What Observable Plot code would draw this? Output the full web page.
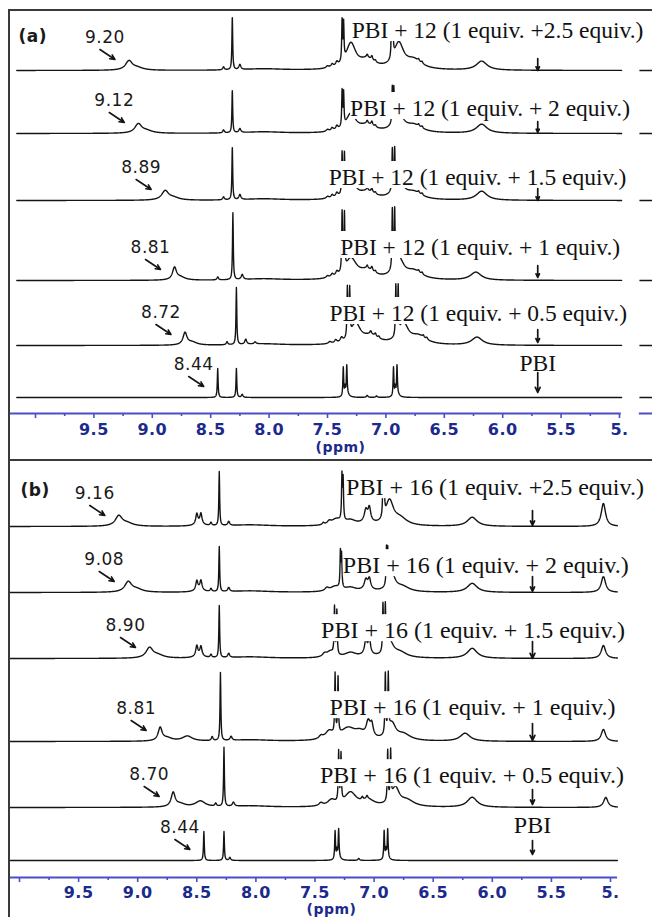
<!DOCTYPE html>
<html>
<head>
<meta charset="utf-8">
<script src="https://cdn.jsdelivr.net/npm/d3@7"></script>
<script src="https://cdn.jsdelivr.net/npm/@observablehq/plot@0.6"></script>
<style>
  html, body { margin: 0; padding: 0; background: #fff; overflow: hidden; width: 652px; height: 917px; }
  #fig { position: relative; width: 652px; height: 917px; overflow: hidden; }
  .panel { position: absolute; left: 0; }
  .border { position: absolute; box-sizing: border-box; border: 0 solid #3a3a3a; pointer-events: none; z-index: 5; }
  svg g[font-size="17"] text { letter-spacing: 0.5px; }
</style>
</head>
<body>
<div id="fig"></div>
<script>
// ---- chemical-shift axis ----------------------------------------------
const ppmTicks = [10, 9.5, 9, 8.5, 8, 7.5, 7, 6.5, 6, 5.5, 5];
const ppmMinorTicks = [9.75, 9.25, 8.75, 8.25, 7.75, 7.25, 6.75, 6.25, 5.75, 5.25];

// ---- panel (a): PBI titrated with 12 ----------------------------------
const samplesA = [
  "PBI + 12 (1 equiv. +2.5 equiv.)",
  "PBI + 12 (1 equiv. + 2 equiv.)",
  "PBI + 12 (1 equiv. + 1.5 equiv.)",
  "PBI + 12 (1 equiv. + 1 equiv.)",
  "PBI + 12 (1 equiv. + 0.5 equiv.)",
  "PBI"
];
const shiftsA = [9.20, 9.12, 8.89, 8.81, 8.72, 8.44];
// peaks: [ppm, height, half-width in ppm]
const peaksA = [
  [[9.20,9,.035],[9.13,2.5,.06],[8.39,3,.008],[8.315,52,.004],[8.25,5,.01],[8.05,1.5,.2],
   [7.50,2,.015],[7.46,3,.012],[7.42,4,.012],[7.375,40,.004],[7.362,36,.004],
   [7.30,25,.05],[7.16,9,.08],[7.16,3,.008],[7.12,4,.008],[7.09,2,.008],
   [6.952,35,.004],[6.94,31,.004],[6.89,25,.05],[6.76,9,.08],[6.72,2,.008],[6.69,2,.008],
   [6.18,9,.055]],
  [[9.12,9,.035],[9.05,2.5,.06],[8.39,3,.008],[8.315,42,.004],[8.25,4,.01],[8.05,1.5,.2],
   [7.50,2,.015],[7.46,3,.012],[7.42,4,.012],[7.375,35,.004],[7.362,32,.004],
   [7.30,18,.05],[7.16,7,.08],[7.16,3,.008],[7.12,4,.008],[7.09,2,.008],
   [6.945,35,.004],[6.932,32,.004],[6.89,18,.05],[6.76,7,.08],[6.72,2,.008],[6.69,2,.008],
   [6.18,9,.055]],
  [[8.89,9,.035],[8.82,2.5,.06],[8.39,3,.008],[8.315,52,.004],[8.25,5,.01],[8.05,1.5,.2],
   [7.50,2,.015],[7.46,3,.012],[7.42,4,.012],[7.375,41,.004],[7.355,38,.004],
   [7.30,18,.05],[7.16,7,.08],[7.16,3,.008],[7.12,4,.008],[7.09,2,.008],
   [6.945,41,.004],[6.925,38,.004],[6.89,18,.05],[6.76,7,.08],[6.72,2,.008],[6.69,2,.008],
   [6.18,9,.055]],
  [[8.81,12,.02],[8.76,3,.05],[8.44,3,.008],[8.31,67,.004],[8.23,5,.01],[8.05,1.5,.2],
   [7.50,2,.015],[7.46,3,.012],[7.42,4,.012],[7.375,59,.004],[7.355,55,.004],
   [7.30,20,.06],[7.16,8,.08],[7.16,3,.008],[7.12,4,.008],[7.09,2,.008],
   [6.945,59,.004],[6.925,55,.004],[6.89,20,.05],[6.76,8,.08],[6.72,2,.008],[6.69,2,.008],
   [6.23,8,.055]],
  [[8.72,12,.02],[8.66,3,.05],[8.36,3,.008],[8.28,57,.004],[8.20,5,.01],[8.12,2,.01],[8.05,1.5,.2],
   [7.48,2,.015],[7.43,3,.012],[7.38,4,.012],[7.33,50,.004],[7.31,46,.004],
   [7.26,20,.05],[7.13,8,.08],[7.13,3,.008],[7.09,3,.008],[7.06,2,.008],
   [6.915,50,.004],[6.895,46,.004],[6.85,20,.05],[6.72,8,.08],[6.68,2,.008],[6.65,2,.008],
   [6.22,8,.055]],
  [[8.44,29,.004],[8.28,29,.004],[8.23,3,.008],
   [7.365,29,.004],[7.35,8,.004],[7.335,29,.004],[7.33,3,.02],
   [7.16,2,.008],[7.08,1.5,.008],
   [6.935,29,.004],[6.92,8,.004],[6.905,29,.004],[6.90,3,.02]]
];

// ---- panel (b): PBI titrated with 16 ----------------------------------
const samplesB = [
  "PBI + 16 (1 equiv. +2.5 equiv.)",
  "PBI + 16 (1 equiv. + 2 equiv.)",
  "PBI + 16 (1 equiv. + 1.5 equiv.)",
  "PBI + 16 (1 equiv. + 1 equiv.)",
  "PBI + 16 (1 equiv. + 0.5 equiv.)",
  "PBI"
];
const shiftsB = [9.16, 9.08, 8.90, 8.81, 8.70, 8.44];
const peaksB = [
  [[9.16,10,.035],[9.09,3,.06],[8.50,10,.01],[8.465,10,.01],[8.48,3,.04],[8.38,3,.008],
   [8.31,54,.004],[8.23,4,.01],[8.05,1.5,.2],[7.43,2,.01],[7.38,3,.02],[7.32,6,.05],
   [7.272,44,.004],[7.262,40,.004],[7.20,5,.06],[7.07,10,.015],[7.04,12,.012],[7.055,5,.04],
   [6.925,35,.004],[6.915,31,.004],[6.87,24,.04],[6.78,7,.07],
   [6.17,9,.05],[5.06,23,.022]],
  [[9.08,10,.035],[9.01,3,.06],[8.50,9,.01],[8.465,9,.01],[8.48,3,.04],[8.38,3,.008],
   [8.31,45,.004],[8.23,4,.01],[8.05,1.5,.2],[7.40,3,.02],[7.33,5,.05],
   [7.285,35,.004],[7.275,32,.004],[7.20,4,.06],[7.07,8,.015],[7.04,9,.012],[7.055,4,.04],
   [6.895,35,.004],[6.885,32,.004],[6.85,17,.035],[6.76,5,.07],
   [6.17,9,.05],[5.06,16,.022]],
  [[8.90,10,.035],[8.83,3,.06],[8.50,10,.01],[8.465,9,.01],[8.48,3,.04],[8.38,3,.008],
   [8.31,52,.004],[8.23,4,.01],[8.05,1.5,.2],[7.42,3,.02],[7.37,6,.04],
   [7.335,47,.004],[7.315,44,.004],[7.20,5,.06],[7.07,12,.012],[7.04,14,.01],[7.055,5,.04],
   [6.925,47,.004],[6.905,44,.004],[6.87,16,.04],[6.78,5,.07],
   [6.17,10,.05],[5.06,13,.022]],
  [[8.81,13,.02],[8.75,3,.05],[8.58,5,.05],[8.37,4,.008],[8.30,68,.004],[8.21,4,.01],[8.05,1.5,.2],
   [7.45,3,.02],[7.38,8,.04],[7.33,60,.004],[7.305,56,.004],
   [7.22,12,.08],[7.12,6,.05],[7.05,15,.02],[7.02,12,.015],
   [6.905,60,.004],[6.88,56,.004],[6.85,16,.04],[6.75,6,.07],
   [6.23,8,.05],[5.06,12,.022]],
  [[8.70,14,.02],[8.64,3,.05],[8.47,6,.05],[8.34,3,.008],[8.27,59,.004],[8.19,4,.01],[8.05,1.5,.2],
   [7.45,3,.02],[7.36,6,.04],[7.30,50,.004],[7.28,47,.004],
   [7.20,14,.06],[7.05,6,.06],[7.10,3,.008],[7.06,3,.008],
   [6.885,50,.004],[6.86,47,.004],[6.82,18,.04],[6.72,6,.07],
   [6.17,10,.05],[5.04,10,.022]],
  [[8.44,29,.004],[8.27,29,.004],[8.22,3,.008],
   [7.33,28,.004],[7.315,8,.004],[7.30,28,.004],[7.30,3,.02],
   [7.13,2,.008],
   [6.915,28,.004],[6.90,8,.004],[6.885,28,.004],[6.89,3,.02]]
];

// ---- layout of the two stacked panels (pixels) -------------------------
const layoutA = {
  letter: "(a)", top: 0, height: 459, axisAt: 413, xRange: [35, 619],
  span: [10.16, 4.98], axisSpans: [[10.22, 4.985], [4.83, 4.5]], stubs: true,
  baselines: [343, 280, 213, 133, 68, 16],
  labelAt: [6.044, 6.108, 6.215, 6.193, 6.21, 5.70],
  labelRise: [40, 25, 23, 33, 32, 34],
  labelSize: 23.5,
  markerAt: 5.70,
  marker: [[12, 0], [12, 1], [12, 0], [15, 3], [16, 3], [25, 5]],
  letterPos: [18, 29], tickPad: 5, unitDy: 38, unitDx: 14
};
const layoutB = {
  letter: "(b)", top: 459, height: 458, axisAt: 418, xRange: [19, 610],
  span: [10.08, 4.94], axisSpans: [[10.09, 4.94]], stubs: false,
  baselines: [351, 285, 219, 136, 70, 17],
  labelAt: [5.977, 6.055, 6.163, 6.167, 6.172, 5.66],
  labelRise: [39, 27, 28, 34, 32, 35],
  labelSize: 24,
  markerAt: 5.66,
  marker: [[16, 1], [16, 1], [17, 0], [18, 1], [18, 3], [20, 6]],
  letterPos: [20, 24], tickPad: 4, unitDy: 36, unitDx: 5
};

const ink = "#141414";
const axisBlue = "#4d4dc8";
const axisNavy = "#1b2a8c";

const lorentz = (p, x) => { const d = x - p[0]; return p[1] * p[2] * p[2] / (d * d + p[2] * p[2]); };

function spectrumRows(peaks, L) {
  const grid = d3.range(L.span[0], L.span[1], -0.002);
  const rows = [];
  peaks.forEach((list, i) => {
    const xs = grid.concat(list.map(p => p[0]).filter(x => x < L.span[0] && x > L.span[1]))
      .sort((a, b) => b - a);
    for (const x of xs) rows.push({ppm: x, y: L.baselines[i] + d3.sum(list, p => lorentz(p, x)), s: i});
  });
  return rows;
}

function drawPanel(samples, shifts, peaks, L) {
  const k = (L.xRange[1] - L.xRange[0]) / 5; // pixels per ppm
  const rows = spectrumRows(peaks, L);
  const idx = d3.range(samples.length);
  const pointers = idx.map(i => ({
    x1: shifts[i] + 29 / k, x2: shifts[i] + 14 / k,
    y1: L.baselines[i] + 21, y2: L.baselines[i] + 11
  }));
  const shiftText = idx.map(i => ({x: shifts[i] + 24 / k, y: L.baselines[i] + 33, t: shifts[i].toFixed(2)}));
  const sampleText = idx.map(i => ({x: L.labelAt[i], y: L.baselines[i] + L.labelRise[i], t: samples[i]}));
  const markers = idx.map(i => ({x: L.markerAt, y1: L.baselines[i] + L.marker[i][0], y2: L.baselines[i] + L.marker[i][1]}));
  const axisSegs = L.axisSpans.map(([a, b]) => ({a, b}));
  const stubs = L.stubs ? L.baselines.map(y => ({y})) : [];

  return Plot.plot({
    width: 652,
    height: L.height,
    marginTop: 0, marginLeft: 0, marginRight: 0,
    marginBottom: L.height - L.axisAt,
    style: {background: "transparent", overflow: "visible"},
    x: {domain: [10, 5], range: L.xRange, label: null},
    y: {domain: [0, L.axisAt], range: [L.axisAt, 0], axis: null},
    marks: [
      Plot.ruleY(axisSegs, {y: 0, x1: "a", x2: "b", stroke: axisBlue, strokeWidth: 2.2}),
      Plot.axisX(ppmMinorTicks, {anchor: "bottom", tickSize: 3, tickFormat: () => "", stroke: axisBlue, strokeWidth: 1.6}),
      Plot.axisX(ppmTicks, {
        anchor: "bottom", tickSize: 5, tickPadding: L.tickPad, stroke: axisBlue, strokeWidth: 1.6,
        fill: axisNavy, fontSize: 16, fontWeight: "bold", fontFamily: "DejaVu Sans",
        tickFormat: d => d === 10 ? "" : d === 5 ? "5." : d.toFixed(1)
      }),
      Plot.text(["(ppm)"], {frameAnchor: "bottom", dx: L.unitDx, dy: L.unitDy, fill: axisNavy,
        fontSize: 14, fontWeight: "bold", fontFamily: "DejaVu Sans"}),
      Plot.line(rows, {x: "ppm", y: "y", z: "s", stroke: ink, strokeWidth: 1.4}),
      Plot.ruleY(stubs, {y: "y", x1: 4.825, x2: 4.5, stroke: ink, strokeWidth: 1.4}),
      Plot.text(sampleText, {x: "x", y: "y", text: "t",
        fontFamily: "Liberation Serif", fontSize: L.labelSize, fill: "#111"}),
      Plot.arrow(markers, {x: "x", y1: "y1", y2: "y2", stroke: ink, strokeWidth: 1.7, headLength: 5, headAngle: 50}),
      Plot.arrow(pointers, {x1: "x1", y1: "y1", x2: "x2", y2: "y2", stroke: ink, strokeWidth: 1.6, headLength: 5, headAngle: 50}),
      Plot.text(shiftText, {x: "x", y: "y", text: "t",
        fontFamily: "DejaVu Sans", fontSize: 17, fill: "#1a1a1a"}),
      Plot.text([L.letter], {frameAnchor: "top-left", dx: L.letterPos[0], dy: L.letterPos[1],
        textAnchor: "start", fontFamily: "DejaVu Sans", fontWeight: "bold", fontSize: 17, fill: "#1a1a1a"})
    ]
  });
}

// Axis lettering: heavy, wide sans for the ppm numbers and unit.
function styleAxisText(svg) {
  svg.querySelectorAll("text").forEach(t => {
    const s = t.textContent;
    if (/^\d\.\d?$/.test(s) || s === "(ppm)") {
      t.style.fontFamily = '"DejaVu Sans", sans-serif';
      t.style.fontWeight = "bold";
      t.style.fontSize = s === "(ppm)" ? "14px" : "16px";
      t.style.letterSpacing = "0.5px";
    }
  });
}

// White boxes behind the sample names hide the peaks that run under them.
function backSampleLabels(svg) {
  svg.querySelectorAll('g[font-family="Liberation Serif"] text').forEach(t => {
    const b = t.getBBox();
    const r = document.createElementNS("http://www.w3.org/2000/svg", "rect");
    r.setAttribute("x", b.x);
    r.setAttribute("y", b.y - 3);
    r.setAttribute("width", b.width);
    r.setAttribute("height", b.height + 1);
    r.setAttribute("fill", "#fff");
    r.setAttribute("stroke", "none");
    if (t.getAttribute("transform")) r.setAttribute("transform", t.getAttribute("transform"));
    t.parentNode.insertBefore(r, t);
  });
}

const fig = document.getElementById("fig");
[[samplesA, shiftsA, peaksA, layoutA], [samplesB, shiftsB, peaksB, layoutB]].forEach(([s, sh, p, L]) => {
  const holder = document.createElement("div");
  holder.className = "panel";
  holder.style.top = L.top + "px";
  const svg = drawPanel(s, sh, p, L);
  holder.appendChild(svg);
  fig.appendChild(holder);
  styleAxisText(svg);
  backSampleLabels(svg);
});

// panel frames
const frameA = document.createElement("div");
frameA.className = "border";
Object.assign(frameA.style, {left: "8px", top: "9px", width: "700px", height: "452px",
  borderTopWidth: "2px", borderLeftWidth: "2px", borderBottomWidth: "2px"});
const frameB = document.createElement("div");
frameB.className = "border";
Object.assign(frameB.style, {left: "8px", top: "459px", width: "700px", height: "500px", borderLeftWidth: "2px"});
fig.appendChild(frameA);
fig.appendChild(frameB);
</script>
</body>
</html>
